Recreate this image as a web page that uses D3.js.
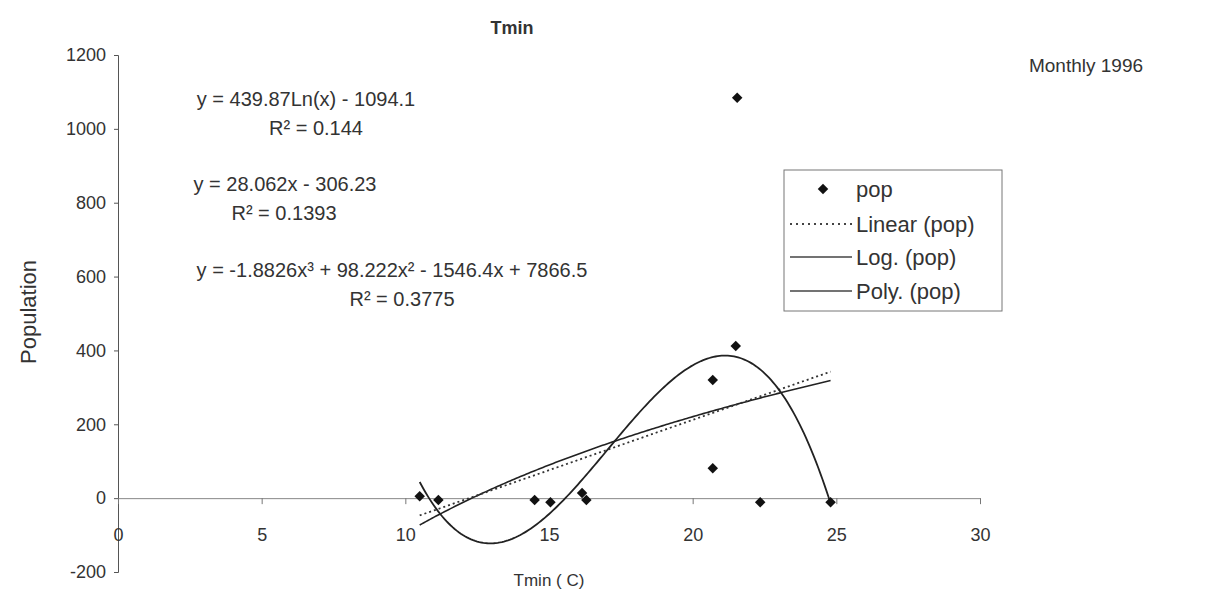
<!DOCTYPE html>
<html>
<head>
<meta charset="utf-8">
<script src="https://cdn.jsdelivr.net/npm/d3@7"></script>
<style>
  body { margin: 0; background: #fff; }
  text { font-family: "Liberation Sans", Arial, sans-serif; fill: #333; }
</style>
</head>
<body>
<script>
var w = 1228;
var h = 599;

// donnees (Tmin, pop)
var tmin = [10.5, 11.15, 14.5, 15.05, 16.15, 16.3, 20.7, 20.7, 21.5, 21.55, 22.35, 24.8];
var pop  = [5, -5, -5, -11, 14, -5, 81, 320, 412, 1084, -11, -11];

var xTicks = [0, 5, 10, 15, 20, 25, 30];
var yTicks = [-200, 0, 200, 400, 600, 800, 1000, 1200];

var eqLog  = ["y = 439.87Ln(x) - 1094.1", "R² = 0.144"];
var eqLin  = ["y = 28.062x - 306.23", "R² = 0.1393"];
var eqPoly = ["y = -1.8826x³ + 98.222x² - 1546.4x + 7866.5", "R² = 0.3775"];
var legendNames = ["pop", "Linear (pop)", "Log. (pop)", "Poly. (pop)"];

var svg = d3.select("body").append("svg")
    .attr("width", w)
    .attr("height", h);

svg.append("rect").attr("width", w).attr("height", h).attr("fill", "#fff");

var x = d3.scaleLinear().domain([0, 30]).range([118, 980]);
var y = d3.scaleLinear().domain([-200, 1200]).range([572, 55]);

// axe y
var yAxis = svg.append("g")
    .attr("transform", "translate(" + x(0) + ",0)")
    .call(d3.axisLeft(y).tickValues(yTicks).tickSize(4).tickPadding(8)
        .tickFormat(function(d) { return String(d).replace("−", "-"); }));
yAxis.select(".domain").attr("stroke", "#555");
yAxis.selectAll(".tick line").attr("stroke", "#555");
yAxis.selectAll("text").attr("font-size", 18).attr("fill", "#444")
    .style("font-family", "Liberation Sans, Arial, sans-serif");

// axe x (croise a y = 0), etiquettes en bas
var xAxis = svg.append("g")
    .attr("transform", "translate(0," + y(0) + ")")
    .call(d3.axisBottom(x).tickValues(xTicks).tickSize(6).tickSizeOuter(0).tickFormat(d3.format("d")));
xAxis.select(".domain").attr("stroke", "#888");
xAxis.selectAll(".tick line").attr("stroke", "#777");
xAxis.selectAll("text").attr("font-size", 18).attr("fill", "#444")
    .attr("y", 30)
    .style("font-family", "Liberation Sans, Arial, sans-serif");

// regressions (moindres carres)
function solve(A, b) {
    var n = b.length;
    for (var i = 0; i < n; i++) {
        var p = i;
        for (var k = i + 1; k < n; k++) if (Math.abs(A[k][i]) > Math.abs(A[p][i])) p = k;
        var t = A[i]; A[i] = A[p]; A[p] = t;
        var tb = b[i]; b[i] = b[p]; b[p] = tb;
        for (var k = i + 1; k < n; k++) {
            var f = A[k][i] / A[i][i];
            for (var j = i; j < n; j++) A[k][j] -= f * A[i][j];
            b[k] -= f * b[i];
        }
    }
    var r = new Array(n);
    for (var i = n - 1; i >= 0; i--) {
        var s = b[i];
        for (var j = i + 1; j < n; j++) s -= A[i][j] * r[j];
        r[i] = s / A[i][i];
    }
    return r;
}
function polyFit(xs, ys, deg) {
    var n = deg + 1;
    var A = [], b = [];
    for (var i = 0; i < n; i++) {
        A.push([]);
        for (var j = 0; j < n; j++) A[i].push(d3.sum(xs, function(v) { return Math.pow(v, i + j); }));
        b.push(d3.sum(xs, function(v, k) { return Math.pow(v, i) * ys[k]; }));
    }
    return solve(A, b);
}
function polyVal(c, v) {
    var s = 0;
    for (var i = 0; i < c.length; i++) s += c[i] * Math.pow(v, i);
    return s;
}

var cLin = polyFit(tmin, pop, 1);
var cPoly = polyFit(tmin, pop, 3);
var cLog = polyFit(tmin.map(Math.log), pop, 1);

var xs = d3.range(0, 201).map(function(i) {
    return d3.min(tmin) + (d3.max(tmin) - d3.min(tmin)) * i / 200;
});

var line = d3.line()
    .x(function(d) { return x(d[0]); })
    .y(function(d) { return y(d[1]); });

svg.append("path")
    .attr("d", line(xs.map(function(v) { return [v, polyVal(cLog, Math.log(v))]; })))
    .attr("fill", "none").attr("stroke", "#222").attr("stroke-width", 1.6);

svg.append("path")
    .attr("d", line(xs.map(function(v) { return [v, polyVal(cLin, v)]; })))
    .attr("fill", "none").attr("stroke", "#333").attr("stroke-width", 1.8)
    .attr("stroke-dasharray", "2,3");

svg.append("path")
    .attr("d", line(xs.map(function(v) { return [v, polyVal(cPoly, v)]; })))
    .attr("fill", "none").attr("stroke", "#222").attr("stroke-width", 1.8);

// points (losange)
var diamond = d3.symbol().type(d3.symbolSquare).size(55);
svg.selectAll(".pt")
    .data(tmin)
    .enter().append("path")
    .attr("class", "pt")
    .attr("d", diamond)
    .attr("transform", function(d, i) { return "translate(" + x(d) + "," + y(pop[i]) + ") rotate(45)"; })
    .attr("fill", "#111");

// titres
svg.append("text").attr("x", 512).attr("y", 34).attr("text-anchor", "middle")
    .attr("font-size", 18).attr("font-weight", "bold").attr("fill", "#222").text("Tmin");
svg.append("text").attr("x", 1086).attr("y", 72).attr("text-anchor", "middle")
    .attr("font-size", 19).attr("fill", "#555").text("Monthly 1996");
svg.append("text").attr("x", 549).attr("y", 586).attr("text-anchor", "middle")
    .attr("font-size", 17).attr("fill", "#444").text("Tmin ( C)");
svg.append("text").attr("transform", "translate(36,312) rotate(-90)").attr("text-anchor", "middle")
    .attr("font-size", 22).attr("fill", "#444").text("Population");

// equations
function eq(lines, cx, cy1, cx2, cy2) {
    svg.append("text").attr("x", cx).attr("y", cy1).attr("text-anchor", "middle")
        .attr("font-size", 20).attr("fill", "#333").text(lines[0]);
    svg.append("text").attr("x", cx2).attr("y", cy2).attr("text-anchor", "middle")
        .attr("font-size", 20).attr("fill", "#333").text(lines[1]);
}
eq(eqLog, 306, 106, 316, 135);
eq(eqLin, 285, 191, 284, 220);
eq(eqPoly, 392, 277, 402, 306);

// legende
var lg = svg.append("g");
lg.append("rect").attr("x", 784).attr("y", 170).attr("width", 218).attr("height", 141)
    .attr("fill", "#fff").attr("stroke", "#777").attr("stroke-width", 1);
var ly = [189, 224, 257, 291];
lg.append("path").attr("d", diamond).attr("transform", "translate(823," + ly[0] + ") rotate(45)").attr("fill", "#111");
lg.append("line").attr("x1", 790).attr("x2", 852).attr("y1", ly[1]).attr("y2", ly[1])
    .attr("stroke", "#444").attr("stroke-width", 1.8).attr("stroke-dasharray", "2,4");
lg.append("line").attr("x1", 790).attr("x2", 852).attr("y1", ly[2]).attr("y2", ly[2])
    .attr("stroke", "#444").attr("stroke-width", 1.6);
lg.append("line").attr("x1", 790).attr("x2", 852).attr("y1", ly[3]).attr("y2", ly[3])
    .attr("stroke", "#444").attr("stroke-width", 1.6);
lg.selectAll(".lt")
    .data(legendNames)
    .enter().append("text")
    .attr("class", "lt")
    .attr("x", 856)
    .attr("y", function(d, i) { return ly[i] + 8; })
    .attr("font-size", 22)
    .attr("fill", "#333")
    .text(function(d) { return d; });
</script>
</body>
</html>
